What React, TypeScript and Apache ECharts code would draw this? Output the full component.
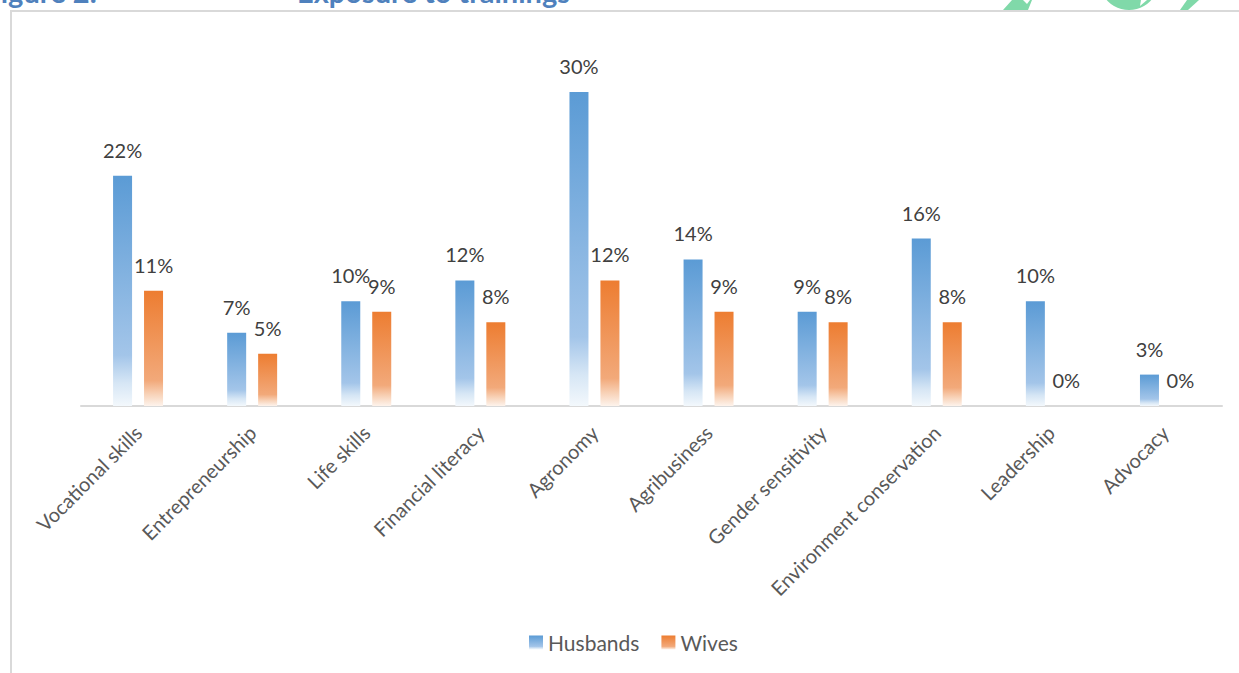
import React, { useEffect, useRef } from 'react';
import * as echarts from 'echarts';

const categories = [
  'Vocational skills',
  'Entrepreneurship',
  'Life skills',
  'Financial literacy',
  'Agronomy',
  'Agribusiness',
  'Gender sensitivity',
  'Environment conservation',
  'Leadership',
  'Advocacy',
];
const husbands = [22, 7, 10, 12, 30, 14, 9, 16, 10, 3];
const wives = [11, 5, 9, 8, 12, 9, 8, 8, 0, 0];
const seriesNames = ['Husbands', 'Wives'];
const titleLeft = 'Figure 2:';
const titleRight = 'Exposure to trainings';

const FONT = 'Lato, "Noto Sans", sans-serif';

function grad(stops: [number, string][]) {
  return new echarts.graphic.LinearGradient(
    0, 0, 0, 1,
    stops.map(([offset, color]) => ({ offset, color }))
  );
}

export default function App() {
  const ref = useRef<HTMLDivElement>(null);
  useEffect(() => {
    if (!ref.current) return;
    const chart = echarts.init(ref.current, undefined, { renderer: 'svg' });
    const blue = grad([
      [0, '#5b9bd5'],
      [0.78, '#a3c5e9'],
      [0.9, '#d6e6f5'],
      [1, '#f3f8fc'],
    ]);
    const orange = grad([
      [0, '#ed7d31'],
      [0.78, '#f2a97a'],
      [0.9, '#f8d3b9'],
      [1, '#fdf3ec'],
    ]);
    const labelCfg = {
      show: true,
      position: 'top' as const,
      distance: 16,
      formatter: '{c}%',
      color: '#404040',
      fontSize: 20,
      fontFamily: FONT,
    };
    chart.setOption({
      animation: false,
      textStyle: { fontFamily: FONT },
      grid: { left: 81, right: 17, top: 92, bottom: 267, containLabel: false },
      xAxis: {
        type: 'category',
        data: categories,
        axisLine: { lineStyle: { color: '#d9d9d9', width: 2 } },
        axisTick: { show: false },
        axisLabel: {
          interval: 0,
          rotate: 45,
          margin: 23,
          color: '#595959',
          fontSize: 20,
          fontFamily: FONT,
        },
      },
      yAxis: {
        type: 'value',
        min: 0,
        max: 30,
        show: false,
        splitLine: { show: false },
      },
      legend: {
        data: seriesNames,
        left: 524,
        top: 627,
        itemWidth: 14,
        itemHeight: 14,
        itemGap: 22,
        icon: 'rect',
        textStyle: { color: '#595959', fontSize: 21, fontFamily: FONT },
      },
      series: [
        {
          name: seriesNames[0],
          type: 'bar',
          data: husbands,
          barWidth: 19,
          barGap: '63%',
          itemStyle: { color: blue },
          label: labelCfg,
        },
        {
          name: seriesNames[1],
          type: 'bar',
          data: wives,
          barWidth: 19,
          itemStyle: { color: orange },
          label: labelCfg,
        },
      ],
      graphic: [
        {
          type: 'polygon',
          z: 1,
          shape: { points: [[1012, 0], [1023, 0], [1027, 4], [1030, 0], [1032, 0], [1028, 10], [1003, 10]] },
          style: { fill: '#80d9a9' },
        },
        {
          type: 'circle',
          z: 1,
          shape: { cx: 1129, cy: -20, r: 30 },
          style: { fill: '#80d9a9' },
        },
        {
          type: 'polygon',
          z: 1,
          shape: { points: [[1141, 0], [1147, 0], [1140, 6]] },
          style: { fill: '#ffffff' },
        },
        {
          type: 'polygon',
          z: 1,
          shape: { points: [[1187, 0], [1199, 0], [1188, 10], [1180, 10]] },
          style: { fill: '#80d9a9' },
        },
        {
          type: 'rect',
          z: 2,
          shape: { x: 11, y: 11, width: 1260, height: 700 },
          style: { fill: 'none', stroke: '#d9d9d9', lineWidth: 2 },
        },
        {
          type: 'text',
          z: 3,
          x: 97,
          y: 6,
          style: {
            text: titleLeft,
            fill: '#4f81bd',
            fontSize: 29,
            fontWeight: 'bold',
            fontFamily: FONT,
            align: 'right',
            verticalAlign: 'bottom',
          },
        },
        {
          type: 'text',
          z: 3,
          x: 297,
          y: 6,
          style: {
            text: titleRight,
            fill: '#4f81bd',
            fontSize: 29,
            fontWeight: 'bold',
            fontFamily: FONT,
            verticalAlign: 'bottom',
          },
        },
      ],
    });
    return () => chart.dispose();
  }, []);
  return (
    <div
      ref={ref}
      style={{ position: 'fixed', left: 0, top: 0, width: 1239, height: 673, background: '#ffffff' }}
    />
  );
}
